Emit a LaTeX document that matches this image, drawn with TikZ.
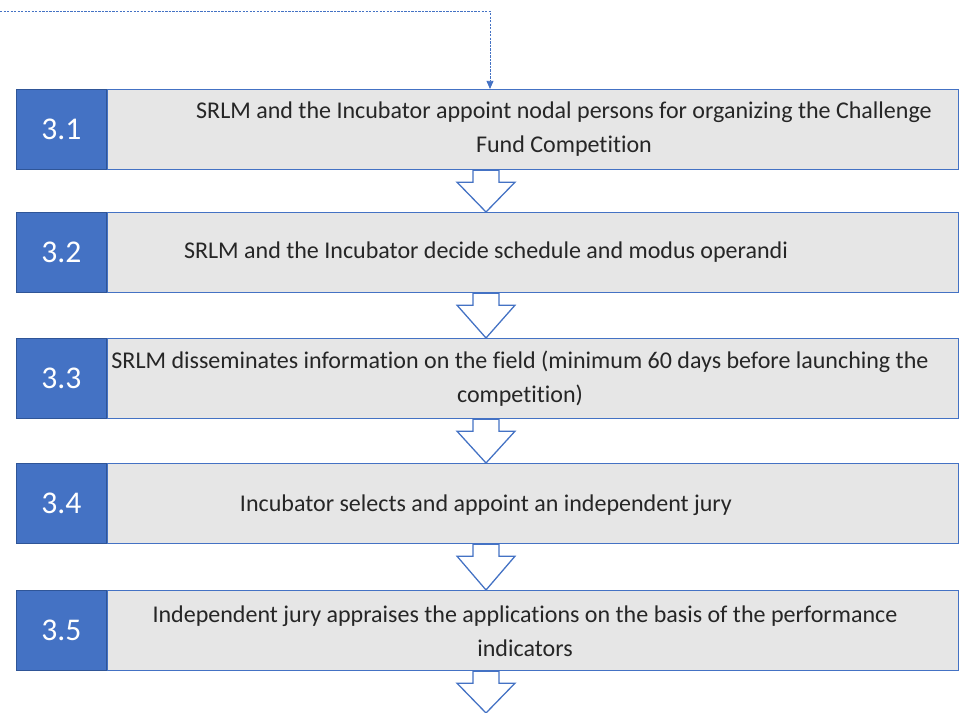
\documentclass[tikz,border=0pt]{standalone}
\usepackage{fontspec}
\setmainfont{Carlito}[Ligatures=NoCommon]
\usetikzlibrary{positioning,calc,arrows.meta}

\definecolor{stepblue}{HTML}{4472C4}
\definecolor{stepedge}{HTML}{2F5597}
\definecolor{stepgray}{HTML}{E6E6E6}
\definecolor{steptext}{HTML}{262626}

\begin{document}
\begin{tikzpicture}[x=0.03cm, y=-0.03cm,
  stepbox/.style={draw=stepblue, fill=stepgray, line width=1pt, anchor=north west,
    minimum width=25.53cm, minimum height=2.4cm, inner sep=0pt},
  numbox/.style={draw=stepedge, fill=stepblue, line width=1pt, anchor=north east,
    minimum width=2.7cm, minimum height=2.4cm, inner sep=0pt, text=white,
    font=\fontsize{27}{30}\selectfont},
  steptxt/.style={align=center, text=steptext, font=\fontsize{20.5}{29}\selectfont},
  blockarrow/.style={draw=stepblue, fill=white, line width=1.1pt, line join=miter},
  feedline/.style={draw=stepblue, line width=0.8pt, dash pattern=on 2pt off 1pt,
    -{Triangle[length=7pt,width=6pt]}}
]
\useasboundingbox (0,0) rectangle (963,713);

% steps 3.1 .. 3.5
\foreach \i/\y in {1/89,2/212,3/338,4/463,5/590}{
  \node[stepbox] (s\i) at (107,\y) {};
  \node[numbox] (n\i) at (s\i.north west) {3.\i};
}

\node[steptxt] (t1) at (564,129) {SRLM and the Incubator appoint nodal persons for organizing the Challenge\\Fund Competition};
\node[steptxt] (t2) at (486,252) {SRLM and the Incubator decide schedule and modus operandi};
\node[steptxt] (t3) at (520,379) {SRLM disseminates information on the field (minimum 60 days before launching the\\competition)};
\node[steptxt] (t4) at (486,505) {Incubator selects and appoint an independent jury};
\node[steptxt] (t5) at (525,631) {Independent jury appraises the applications on the basis of the performance\\indicators};

% feedback line coming in from the left
\coordinate (loopin) at (0,11);
\coordinate (feedx) at (490,0);
\draw[feedline] (loopin) -| (feedx |- s1.north);

% hollow block arrows between the steps
\coordinate (axis) at (486,0);
\coordinate (flowend) at (486,713);
\foreach \i [evaluate=\i as \j using int(\i+1)] in {1,...,4}
  \draw[blockarrow] ($(s\i.south -| axis)+(-13,0)$) -- ++(0,12) -- ++(-16,0)
    -- (s\j.north -| axis) -- ($(s\i.south -| axis)+(29,12)$) -- ++(-16,0) -- ++(0,-12) -- cycle;
\draw[blockarrow] ($(s5.south -| axis)+(-13,0)$) -- ++(0,12) -- ++(-16,0)
  -- (flowend) -- ($(s5.south -| axis)+(29,12)$) -- ++(-16,0) -- ++(0,-12) -- cycle;
\end{tikzpicture}
\end{document}
